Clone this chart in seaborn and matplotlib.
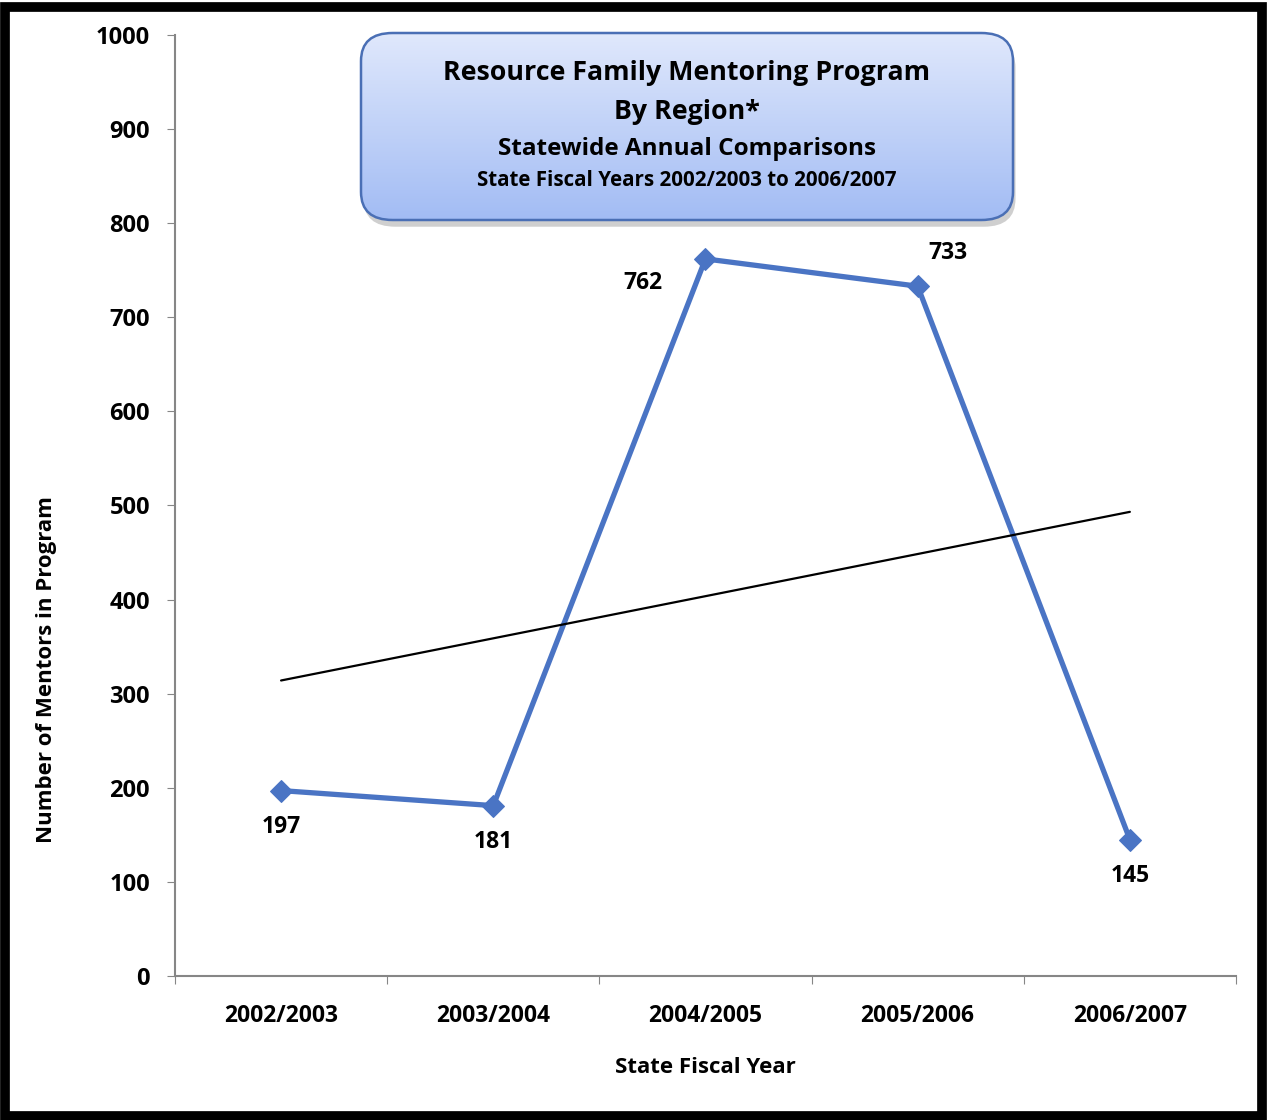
import numpy as np
import pandas as pd
import seaborn as sns
import matplotlib.pyplot as plt
from matplotlib.patches import FancyBboxPatch, Rectangle
from matplotlib.colors import LinearSegmentedColormap

years = ['2002/2003', '2003/2004', '2004/2005', '2005/2006', '2006/2007']
mentors = [197, 181, 762, 733, 145]
y_ticks = [0, 100, 200, 300, 400, 500, 600, 700, 800, 900, 1000]

sns.set_style('white')
plt.rcParams['font.family'] = ['Open Sans', 'DejaVu Sans']
plt.rcParams['font.weight'] = 'bold'
plt.rcParams['text.color'] = 'black'
plt.rcParams['axes.labelcolor'] = 'black'
plt.rcParams['xtick.labelcolor'] = 'black'
plt.rcParams['ytick.labelcolor'] = 'black'

df = pd.DataFrame({'year': years, 'mentors': mentors})
df['pos'] = range(len(df))

fig = plt.figure(figsize=(12.67, 11.2), dpi=100)
ax = fig.add_axes([0.1381, 0.1286, 0.8374, 0.8402])

line_color = '#4a74c4'
sns.lineplot(data=df, x='pos', y='mentors', ax=ax, color=line_color,
             linewidth=3.8, marker='D', markersize=11, markeredgecolor=line_color)

# linear trendline
coef = np.polyfit(df['pos'], df['mentors'], 1)
ax.plot(df['pos'], np.polyval(coef, df['pos']), color='black', linewidth=1.6)

# data labels (offsets in points)
offsets = [(0, -26), (0, -26), (-45, -17), (22, 24), (0, -26)]
for i, (v, off) in enumerate(zip(mentors, offsets)):
    ax.annotate(str(v), (i, v), xytext=off, textcoords='offset points',
                ha='center', va='center', fontsize=16.5, fontweight='bold')

ax.set_xlim(-0.5, 4.5)
ax.set_ylim(0, 1000)
ax.set_yticks(y_ticks)
ax.set_yticklabels([str(t) for t in y_ticks], fontsize=17, fontweight='bold')
ax.set_xticks(np.arange(-0.5, 5, 1))
ax.set_xticklabels([])
ax.set_xticks(range(len(years)), minor=True)
ax.set_xticklabels(years, minor=True, fontsize=16.5, fontweight='bold')
ax.tick_params(axis='x', which='minor', length=0, pad=20)
ax.tick_params(axis='x', which='major', length=6, color='#868686', direction='out', bottom=True)
ax.tick_params(axis='y', length=6, color='#868686', direction='out', left=True, pad=12)

for side in ['top', 'right']:
    ax.spines[side].set_visible(False)
for side in ['left', 'bottom']:
    ax.spines[side].set_color('#868686')
    ax.spines[side].set_linewidth(1.5)

ax.set_xlabel('State Fiscal Year', fontsize=16, fontweight='bold')
ax.xaxis.set_label_coords(0.5, -(1068 - 976) / 941, transform=ax.transAxes)
ax.set_ylabel('Number of Mentors in Program', fontsize=16, fontweight='bold')
ax.yaxis.set_label_coords(-(175 - 47) / 1061, (976 - 670) / 941, transform=ax.transAxes)
ax.xaxis.label.set_va('center')
ax.yaxis.label.set_va('center')

# title box with gradient and shadow
bx0, by0, bw, bh = 361 / 1267, 1 - 220 / 1120, (1013 - 361) / 1267, (220 - 33) / 1120
style = 'round,pad=0,rounding_size=0.025'
shadow = FancyBboxPatch((bx0 + 0.002, by0 - 0.006), bw, bh, boxstyle=style,
                        transform=fig.transFigure, facecolor='#a8a8a8',
                        edgecolor='none', alpha=0.55, zorder=5)
fig.patches.append(shadow)
grad_ax = fig.add_axes([0, 0, 1, 1], zorder=6)
grad_ax.axis('off')
grad_ax.set_xlim(0, 1)
grad_ax.set_ylim(0, 1)
grad = np.linspace(0, 1, 256).reshape(-1, 1)
cmap = LinearSegmentedColormap.from_list('g', ['#e0e8fc', '#a2bcf4'])
im = grad_ax.imshow(grad, aspect='auto', cmap=cmap, origin='upper',
                    extent=[bx0, bx0 + bw, by0, by0 + bh])
clip = FancyBboxPatch((bx0, by0), bw, bh, boxstyle=style,
                      transform=grad_ax.transData, facecolor='none', edgecolor='none')
grad_ax.add_patch(clip)
im.set_clip_path(clip)
box = FancyBboxPatch((bx0, by0), bw, bh, boxstyle=style,
                     transform=grad_ax.transData, facecolor='none',
                     edgecolor='#4a6fb5', linewidth=1.8, zorder=7)
grad_ax.add_patch(box)

cx = (361 + 1013) / 2 / 1267
fig.text(cx, 1 - 73 / 1120, 'Resource Family Mentoring Program', ha='center', va='center',
         fontsize=19.3, fontweight='bold', zorder=8)
fig.text(cx, 1 - 112 / 1120, 'By Region*', ha='center', va='center',
         fontsize=19.3, fontweight='bold', zorder=8)
fig.text(cx, 1 - 149 / 1120, 'Statewide Annual Comparisons', ha='center', va='center',
         fontsize=17.5, fontweight='bold', zorder=8)
fig.text(cx, 1 - 181 / 1120, 'State Fiscal Years 2002/2003 to 2006/2007', ha='center', va='center',
         fontsize=14.8, fontweight='bold', zorder=8)

# outer black frame
fig.patches.append(Rectangle((0.004, 0.004), 0.992, 0.99, transform=fig.transFigure,
                             fill=False, edgecolor='black', linewidth=7, zorder=10))

fig.savefig('out.png', dpi=100)
